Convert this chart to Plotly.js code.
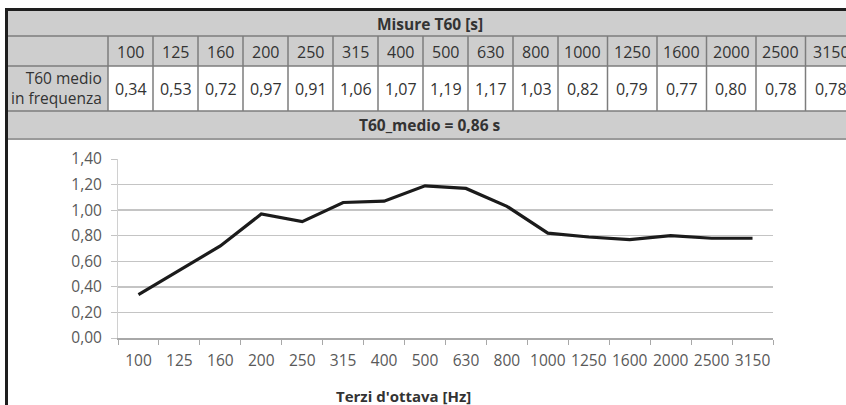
<!DOCTYPE html>
<html>
<head>
<meta charset="utf-8">
<script src="https://cdn.plot.ly/plotly-3.0.1.min.js"></script>
<style>html,body{margin:0;padding:0;background:#fff;}#chart{width:846px;height:405px;}</style>
</head>
<body>
<div id="chart"></div>
<script>
// ---- data ----
const freqs = ['100','125','160','200','250','315','400','500','630','800','1000','1250','1600','2000','2500','3150'];
const t60 = [0.34,0.53,0.72,0.97,0.91,1.06,1.07,1.19,1.17,1.03,0.82,0.79,0.77,0.80,0.78,0.78];
const tableTitle = 'Misure T60 [s]';
const rowLabel = 'T60 medio<br>in frequenza';
const summaryText = 'T60_medio = 0,86 s';
const xTitle = "Terzi d'ottava [Hz]";

// ---- layout helpers ----
const W = 846, H = 405;
const M = {l:118, r:73, t:159, b:67};
const PW = W - M.l - M.r, PH = H - M.t - M.b;
const fx = px => (px - M.l) / PW;
const fy = py => (H - M.b - py) / PH;
const FONT = '"Open Sans", "DejaVu Sans", sans-serif';
const GRAY = '#cecece', BORDER = '#7d7d7d', TXT = '#333333';

const fmt = v => v.toFixed(2).replace('.', ',');

const shapes = [];
const annotations = [];
function rect(x0,y0,x1,y1,fill){
  shapes.push({type:'rect',xref:'paper',yref:'paper',x0:fx(x0),x1:fx(x1),y0:fy(y1),y1:fy(y0),
    fillcolor:fill,line:{width:0},layer:'above'});
}
function line(x0,y0,x1,y1,color,w){
  shapes.push({type:'line',xref:'paper',yref:'paper',x0:fx(x0),x1:fx(x1),y0:fy(y0),y1:fy(y1),
    line:{color:color,width:w},layer:'above'});
}
function text(x,y,t,opts){
  annotations.push(Object.assign({xref:'paper',yref:'paper',x:fx(x),y:fy(y),text:t,showarrow:false,
    xanchor:'center',yanchor:'middle',font:{family:FONT,size:15.5,color:TXT}},opts||{}));
}

// rows
const rTop = 11, r1 = 36, r2 = 66, r3 = 111, r4 = 139;
rect(8, rTop, W, r1, GRAY);
rect(8, r1, W, r2, GRAY);
rect(8, r2, 108, r3, GRAY);
rect(108, r2, W, r3, '#ffffff');
rect(8, r3, W, r4, GRAY);

// column boundaries
const bounds = [108];
freqs.forEach(f => bounds.push(bounds[bounds.length-1] + (f.length >= 4 ? 49.5 : 45)));

// borders
line(8, r1, W, r1, BORDER, 1.5);
line(8, r2, W, r2, BORDER, 1.5);
line(8, r3, W, r3, BORDER, 1.5);
line(8, r4, W, r4, '#9a9a9a', 2);
bounds.forEach(b => line(b, r1, b, r3, BORDER, 1.5));

// outer frame
line(6.5, 8, 6.5, H, '#1e1e1e', 3);
line(5, 9.5, W, 9.5, '#1e1e1e', 3);

// table text
text(430, 23.5, '<b>' + tableTitle + '</b>');
freqs.forEach((f,i) => {
  const cx = (bounds[i] + bounds[i+1]) / 2 + (i === freqs.length-1 ? 1 : 0);
  text(cx, 51.5, f, {font:{family:FONT,size:16,color:TXT}});
  text(cx, 88.5, fmt(t60[i]), {font:{family:FONT,size:16,color:TXT}});
});
text(104, 88, rowLabel, {xanchor:'right', align:'right'});
text(430, 125.5, '<b>' + summaryText + '</b>');

// x-axis title
text(403, 396, '<b>' + xTitle + '</b>', {font:{family:FONT,size:15,color:TXT}});

const trace = {
  type:'scatter', mode:'lines', x:freqs, y:t60,
  line:{color:'#1b1b1b', width:3.2}, hoverinfo:'skip'
};

const layout = {
  width:W, height:H, margin:M,
  paper_bgcolor:'#ffffff', plot_bgcolor:'#ffffff',
  showlegend:false, separators:',.',
  font:{family:FONT, size:15, color:'#595959'},
  xaxis:{type:'category', range:[-0.5, freqs.length-0.5], tickson:'boundaries', ticks:'outside', ticklen:5, tickcolor:'#a8a8a8',
    tickangle:0, showline:true, linecolor:'#a8a8a8', linewidth:1.5, showgrid:false, zeroline:false,
    tickfont:{family:FONT,size:15.5,color:'#595959'}, ticklabelstandoff:8, fixedrange:true},
  yaxis:{range:[0,1.4], dtick:0.2, tickformat:'.2f', ticks:'outside', ticklen:6, tickcolor:'#c4c4c4',
    showline:true, linecolor:'#d0d0d0', linewidth:1, showgrid:true, gridcolor:'#c4c4c4', gridwidth:1.5,
    zeroline:false, tickfont:{family:FONT,size:15.5,color:'#595959'}, ticklabelstandoff:6, fixedrange:true},
  shapes:shapes, annotations:annotations
};

Plotly.newPlot('chart', [trace], layout, {staticPlot:true, displayModeBar:false});
</script>
</body>
</html>
